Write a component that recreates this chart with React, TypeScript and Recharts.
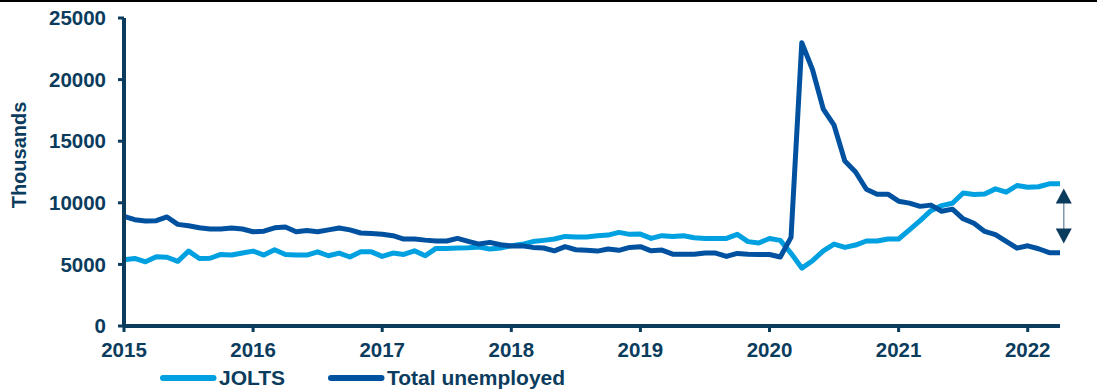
import React from 'react';
import { LineChart, Line, XAxis, YAxis, Legend, ReferenceLine } from 'recharts';

const NAVY = '#0B3C5D';
const LIGHT = '#00A0E1';
const DARK = '#0052A0';

const xTickLabels = ['2015', '2016', '2017', '2018', '2019', '2020', '2021', '2022'];
const yTicks = [0, 5000, 10000, 15000, 20000, 25000];

// Monthly, Jan 2015 .. Apr 2022 (thousands)
const jolts = [
  5370, 5480, 5210, 5620, 5580, 5250, 6080, 5480, 5500, 5810, 5760, 5920,
  6080, 5760, 6190, 5810, 5760, 5760, 6020, 5700, 5920, 5600, 6020, 6020,
  5650, 5920, 5810, 6100, 5700, 6300, 6300, 6330, 6350, 6410, 6250, 6330,
  6520, 6630, 6850, 6950, 7060, 7270, 7220, 7220, 7330, 7380, 7600, 7440,
  7460, 7110, 7330, 7270, 7330, 7160, 7110, 7110, 7110, 7440, 6850, 6740,
  7100, 6950, 5900, 4700, 5300, 6100, 6650, 6380, 6570, 6900, 6900, 7060,
  7060, 7800, 8550, 9360, 9770, 9960, 10800, 10670, 10720, 11130, 10860, 11400,
  11260, 11300, 11540, 11540,
];

const unemployed = [
  8900, 8630, 8520, 8550, 8850, 8250, 8140, 7980, 7870, 7870, 7950, 7870,
  7650, 7700, 7970, 8030, 7650, 7750, 7650, 7800, 7950, 7800, 7550, 7500,
  7450, 7330, 7060, 7060, 6970, 6900, 6900, 7110, 6870, 6650, 6790, 6600,
  6490, 6520, 6380, 6330, 6100, 6440, 6190, 6140, 6080, 6250, 6140, 6380,
  6440, 6100, 6160, 5830, 5830, 5830, 5920, 5920, 5650, 5890, 5830, 5810,
  5800, 5600, 7190, 23000, 20800, 17600, 16300, 13400, 12500, 11100, 10700, 10700,
  10130, 9972, 9710, 9812, 9316, 9484, 8702, 8338, 7674, 7418, 6867, 6319,
  6509, 6270, 5952, 5941,
];

const arrowX = 87.35;
const arrowTop = 11160;
const arrowBottom = 6700;

const data = jolts.map((v, i) => ({ m: i, jolts: v, unemployed: unemployed[i] }));
const xTicks = xTickLabels.map((_, k) => k * 12);

const font = { fontFamily: '"Liberation Sans", Arial, sans-serif', fontWeight: 700 };

const ArrowShape = (props: any) => {
  const { x1, y1, y2 } = props;
  const top = Math.min(y1, y2);
  const bot = Math.max(y1, y2);
  const x = x1;
  return (
    <g>
      <line x1={x} y1={top + 14} x2={x} y2={bot - 14} stroke="#8397AA" strokeWidth={1.5} />
      <polygon points={`${x},${top} ${x - 8},${top + 15} ${x + 8},${top + 15}`} fill={NAVY} />
      <polygon points={`${x},${bot} ${x - 8},${bot - 15} ${x + 8},${bot - 15}`} fill={NAVY} />
    </g>
  );
};

const renderLegend = (props: any) => {
  const payload = props.payload || [];
  const slots = [0, 168];
  return (
    <svg width={440} height={22} style={{ display: 'block', overflow: 'visible' }}>
      {payload.map((p: any, i: number) => (
        <g key={i} transform={`translate(${slots[i] || 0},0)`}>
          <line x1={6} y1={11} x2={56.5} y2={11} stroke={p.color} strokeWidth={6} strokeLinecap="round" />
          <text x={62} y={18} fill={NAVY} fontSize={21} style={font}>
            {p.value}
          </text>
        </g>
      ))}
    </svg>
  );
};

export default function App() {
  return (
    <div style={{ position: 'absolute', left: 0, top: 0, width: 1097, height: 389, background: '#fff' }}>
      <div style={{ position: 'absolute', left: 0, top: 0, width: 1097, height: 2, background: '#000' }} />
      <LineChart
        width={1097}
        height={389}
        data={data}
        margin={{ top: 18, right: 37, bottom: 0, left: 8 }}
      >
        <XAxis
          type="number"
          dataKey="m"
          domain={[0, 87]}
          ticks={xTicks}
          interval={0}
          tickFormatter={(v: number) => xTickLabels[Math.round(v / 12)]}
          height={41}
          stroke={NAVY}
          strokeWidth={4}
          tickSize={6}
          tickMargin={10}
          tickLine={{ stroke: NAVY, strokeWidth: 3 }}
          tick={{ fill: NAVY, fontSize: 20.5, ...font }}
        />
        <YAxis
          domain={[0, 25000]}
          ticks={yTicks}
          interval={0}
          width={116}
          stroke={NAVY}
          strokeWidth={4}
          tickSize={6}
          tickMargin={12}
          tickLine={{ stroke: NAVY, strokeWidth: 3 }}
          tick={{ fill: NAVY, fontSize: 20.5, ...font }}
          label={{
            content: () => (
              <text
                x={26}
                y={155}
                transform="rotate(-90 26 155)"
                textAnchor="middle"
                fill={NAVY}
                fontSize={20}
                style={font}
              >
                Thousands
              </text>
            ),
          }}
        />
        <Legend
          verticalAlign="bottom"
          align="left"
          height={22}
          content={renderLegend}
          wrapperStyle={{ left: 157, bottom: 0, width: 440, height: 22 }}
        />
        <Line
          type="linear"
          dataKey="jolts"
          name="JOLTS"
          stroke={LIGHT}
          strokeWidth={5}
          strokeLinejoin="round"
          dot={false}
          isAnimationActive={false}
        />
        <Line
          type="linear"
          dataKey="unemployed"
          name="Total unemployed"
          stroke={DARK}
          strokeWidth={5}
          strokeLinejoin="round"
          dot={false}
          isAnimationActive={false}
        />
        <ReferenceLine
          segment={[
            { x: arrowX, y: arrowTop },
            { x: arrowX, y: arrowBottom },
          ]}
          ifOverflow="visible"
          shape={ArrowShape}
        />
      </LineChart>
    </div>
  );
}
